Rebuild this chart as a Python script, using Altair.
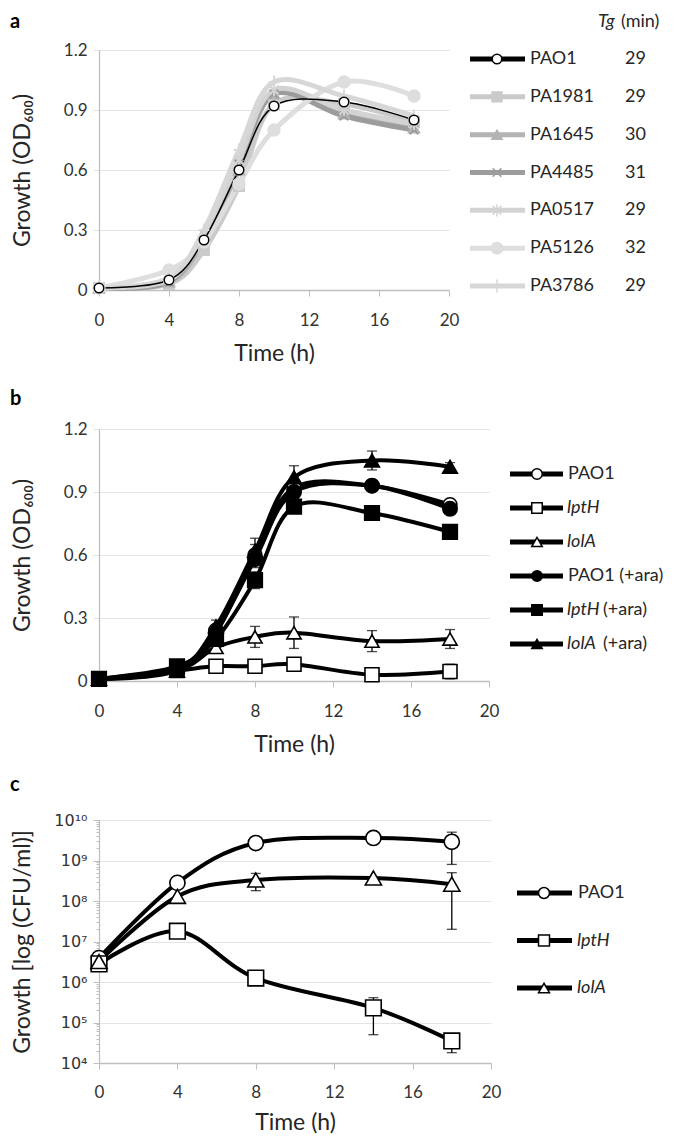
import altair as alt
import pandas as pd

FONT = "Lato"
TXT = "#262626"
LBL = "#333333"
AXC = "#bfbfbf"
GRID = "#e4e4e4"

# ---------------- panel a data ----------------
a_time = [0, 4, 6, 8, 10, 14, 18]
a_names = ["PAO1", "PA1981", "PA1645", "PA4485", "PA0517", "PA5126", "PA3786"]
a_tg = ["29", "29", "30", "31", "29", "32", "29"]
a_header = ["Tg", "(min)"]
a_PAO1 = [0.01, 0.05, 0.25, 0.60, 0.92, 0.94, 0.85]
a_PA1981 = [0.01, 0.03, 0.20, 0.52, 0.93, 0.93, 0.84]
a_PA1645 = [0.01, 0.04, 0.25, 0.60, 0.98, 0.88, 0.81]
a_PA4485 = [0.01, 0.04, 0.28, 0.63, 0.98, 0.87, 0.80]
a_PA0517 = [0.01, 0.05, 0.28, 0.65, 1.00, 0.90, 0.83]
a_PA5126 = [0.01, 0.10, 0.24, 0.53, 0.80, 1.04, 0.97]
a_PA3786 = [0.01, 0.06, 0.30, 0.70, 1.04, 0.97, 0.87]
a_values = [a_PAO1, a_PA1981, a_PA1645, a_PA4485, a_PA0517, a_PA5126, a_PA3786]

# ---------------- panel b data ----------------
b_time = [0, 4, 6, 8, 10, 14, 18]
b_names = ["PAO1", "lptH", "lolA", "PAO1 (+ara)", "lptH (+ara)", "lolA (+ara)"]
b_PAO1 = [0.01, 0.06, 0.23, 0.60, 0.92, 0.93, 0.84]
b_lptH = [0.01, 0.05, 0.07, 0.07, 0.08, 0.03, 0.045]
b_lolA = [0.01, 0.05, 0.16, 0.21, 0.23, 0.19, 0.20]
b_PAO1_ara = [0.01, 0.06, 0.24, 0.58, 0.90, 0.93, 0.82]
b_lptH_ara = [0.01, 0.07, 0.20, 0.48, 0.83, 0.80, 0.71]
b_lolA_ara = [0.01, 0.05, 0.26, 0.62, 0.97, 1.05, 1.02]
b_values = [b_PAO1, b_lptH, b_lolA, b_PAO1_ara, b_lptH_ara, b_lolA_ara]
b_PAO1_sd = [0, 0, 0.02, 0.05, 0.04, 0.02, 0.02]
b_lptH_sd = [0, 0, 0.01, 0.01, 0.01, 0.01, 0.035]
b_lolA_sd = [0, 0, 0.02, 0.05, 0.075, 0.05, 0.045]
b_PAO1_ara_sd = [0, 0, 0.02, 0.04, 0.03, 0.02, 0.02]
b_lptH_ara_sd = [0, 0, 0.02, 0.04, 0.03, 0.02, 0.02]
b_lolA_ara_sd = [0, 0, 0.03, 0.06, 0.055, 0.045, 0.02]
b_sds = [b_PAO1_sd, b_lptH_sd, b_lolA_sd, b_PAO1_ara_sd, b_lptH_ara_sd, b_lolA_ara_sd]

# ---------------- panel c data ----------------
c_time = [0, 4, 8, 14, 18]
c_names = ["PAO1", "lptH", "lolA"]
c_PAO1 = [3.9e6, 2.8e8, 2.7e9, 3.6e9, 2.9e9]
c_lptH = [2.8e6, 1.8e7, 1.25e6, 2.3e5, 3.5e4]
c_lolA = [3.2e6, 1.3e8, 3.3e8, 3.7e8, 2.6e8]
c_values = [c_PAO1, c_lptH, c_lolA]
c_PAO1_sd = [0, 0, 0, 0, 2.1e9]
c_lptH_sd = [0, 0, 4.0e5, 1.8e5, 1.7e4]
c_lolA_sd = [0, 0, 1.5e8, 0, 2.4e8]
c_sds = [c_PAO1_sd, c_lptH_sd, c_lolA_sd]
c_major = [1e4, 1e5, 1e6, 1e7, 1e8, 1e9, 1e10]

x_ticks = [0, 4, 8, 12, 16, 20]
y_lin_ticks = [0, 0.3, 0.6, 0.9, 1.2]
panel_letters = ["a", "b", "c"]
x_title = "Time (h)"
ya_title = "Growth (OD\u2086\u2080\u2080)"
yc_title = "Growth [log (CFU/ml)]"
italic_set = ["lptH", "lolA"]


def long_df(times, names, values, sds=None):
    rows = []
    for i, n in enumerate(names):
        for j, t in enumerate(times):
            r = {"series": n, "time": t, "value": values[i][j]}
            if sds is not None:
                s = sds[i][j]
                r["sd"] = s
                r["lo"] = values[i][j] - s
                r["hi"] = values[i][j] + s
            rows.append(r)
    return pd.DataFrame(rows)


df_a = long_df(a_time, a_names, a_values)
df_b = long_df(b_time, b_names, b_values, b_sds)
df_c = long_df(c_time, c_names, c_values, c_sds)

X_PATH = "M-0.8,-0.8L0.8,0.8M-0.8,0.8L0.8,-0.8"
AST_PATH = "M-0.8,-0.8L0.8,0.8M-0.8,0.8L0.8,-0.8M0,-1.1L0,1.1"
PLUS_PATH = "M0,-1.1L0,1.1M-0.9,0L0.9,0"


def x_axis(label_pad=16, title_pad=14):
    return alt.Axis(values=x_ticks, title=x_title, grid=False, tickSize=6, tickColor=AXC,
                    domainColor=AXC, domainWidth=1.3, labelPadding=label_pad, labelFontSize=17,
                    labelFont=FONT, labelColor=LBL, labelFlush=False, titleFontSize=23,
                    titleFont=FONT, titleFontWeight="normal", titleColor=TXT, titlePadding=title_pad)


def y_axis_lin(title):
    return alt.Axis(values=y_lin_ticks, format=".1~f", title=title, grid=True, gridColor=GRID,
                    tickSize=6, tickColor=GRID, domainColor=AXC, domainWidth=1.3, labelPadding=6,
                    labelFontSize=17, labelFont=FONT, labelColor=LBL, titleFontSize=23,
                    titleFont=FONT, titleFontWeight="normal", titleColor=TXT, titlePadding=21,
                    minExtent=44, maxExtent=44)


def letter_layer(t, ypos):
    return alt.Chart(pd.DataFrame({"t": [t]})).mark_text(
        align="left", baseline="alphabetic", fontSize=20, fontWeight="bold", font=FONT,
        color="black").encode(x=alt.value(-89), y=alt.value(ypos), text="t:N")


def text_layer(df, y, field, x, italic=False, flt=None, size=18):
    c = alt.Chart(df)
    if flt is not None:
        c = c.transform_filter(flt)
    kw = dict(align="left", baseline="middle", fontSize=size, font=FONT, color=TXT)
    if italic:
        kw["fontStyle"] = "italic"
    return c.mark_text(**kw).encode(x=alt.value(x), y=y, text=field + ":N")


# ================= panel a =================
a_colors = ["#000000", "#cacaca", "#b4b4b4", "#9c9c9c", "#d3d3d3", "#dedede", "#d7d7d7"]
a_shapes = ["circle", "square", "triangle-up", X_PATH, AST_PATH, "circle", PLUS_PATH]
a_fills = ["#ffffff", "#cacaca", "#b4b4b4", "#9c9c9c", "#d3d3d3", "#dedede", "#d7d7d7"]
a_sizes = [90, 140, 160, 130, 130, 220, 150]

xa = alt.X("time:Q", scale=alt.Scale(domain=[0, 20], nice=False, zero=False), axis=x_axis())
ya_scale = alt.Scale(domain=[0, 1.2], nice=False)
ya = alt.Y("value:Q", scale=ya_scale, axis=y_axis_lin(ya_title))
ya_n = alt.Y("value:Q", scale=ya_scale, axis=None)
col_a = alt.Color("series:N", scale=alt.Scale(domain=a_names, range=a_colors), legend=None)
shape_a = alt.Shape("series:N", scale=alt.Scale(domain=a_names, range=a_shapes), legend=None)
fill_a = alt.Fill("series:N", scale=alt.Scale(domain=a_names, range=a_fills), legend=None)
stroke_a = alt.Stroke("series:N", scale=alt.Scale(domain=a_names, range=a_colors), legend=None)

base_a = alt.Chart(df_a)
a_gray_lines = base_a.transform_filter(alt.datum.series != "PAO1").mark_line(
    interpolate="cardinal", strokeWidth=5).encode(x=xa, y=ya, color=col_a)
a_black_line = base_a.transform_filter(alt.datum.series == "PAO1").mark_line(
    interpolate="cardinal", strokeWidth=1.5, color="black").encode(x=xa, y=ya_n)
a_gray_pts = base_a.transform_filter(alt.datum.series != "PAO1").mark_point(
    opacity=1, strokeWidth=2).encode(
    x=xa, y=ya_n, shape=shape_a, fill=fill_a, stroke=stroke_a,
    size=alt.Size("series:N", scale=alt.Scale(domain=a_names, range=a_sizes), legend=None))
a_black_pts = base_a.transform_filter(alt.datum.series == "PAO1").mark_point(
    opacity=1, strokeWidth=1.5, shape="circle", fill="white", stroke="black", size=90).encode(x=xa, y=ya_n)

# legend a (drawn to the right of the plot area)
LA = 366
la_df = pd.DataFrame({"series": a_names, "tg": a_tg})
y_la = alt.Y("series:N", scale=alt.Scale(type="point", domain=a_names, range=[9, 236], padding=0), axis=None)
la_lines = alt.Chart(la_df).mark_rule(strokeWidth=5).encode(
    x=alt.value(LA + 5), x2=alt.value(LA + 60), y=y_la, color=col_a)
la_pts = alt.Chart(la_df).mark_point(opacity=1, strokeWidth=1.5).encode(
    x=alt.value(LA + 32), y=y_la, shape=shape_a, fill=fill_a, stroke=stroke_a,
    size=alt.Size("series:N", scale=alt.Scale(domain=a_names, range=a_sizes), legend=None))
la_txt = text_layer(la_df, y_la, "series", LA + 65)
la_tg = text_layer(la_df, y_la, "tg", LA + 160)
hd_df = pd.DataFrame({"h1": [a_header[0]], "h2": [a_header[1]]})
la_h1 = alt.Chart(hd_df).mark_text(align="left", baseline="middle", fontSize=18, font=FONT,
                                   fontStyle="italic", color=TXT).encode(
    x=alt.value(LA + 133), y=alt.value(-28), text="h1:N")
la_h2 = alt.Chart(hd_df).mark_text(align="left", baseline="middle", fontSize=18, font=FONT, color=TXT).encode(
    x=alt.value(LA + 156), y=alt.value(-28), text="h2:N")

panel_a = alt.layer(a_gray_lines, a_black_line, a_gray_pts, a_black_pts,
                    la_lines, la_pts, la_txt, la_tg, la_h1, la_h2,
                    letter_layer(panel_letters[0], -22)).resolve_scale(
    y="independent").properties(width=350, height=240)

# ================= panel b =================
b_shapes = ["circle", "square", "triangle-up", "circle", "square", "triangle-up"]
b_fills = ["white", "white", "white", "black", "black", "black"]
b_sizes = [190, 220, 220, 190, 220, 220]

xb = alt.X("time:Q", scale=alt.Scale(domain=[0, 20], nice=False, zero=False), axis=x_axis())
yb_scale = alt.Scale(domain=[0, 1.2], nice=False)
yb = alt.Y("value:Q", scale=yb_scale, axis=y_axis_lin(ya_title))
yb_n = alt.Y("value:Q", scale=yb_scale, axis=None)
shape_b = alt.Shape("series:N", scale=alt.Scale(domain=b_names, range=b_shapes), legend=None)
fill_b = alt.Fill("series:N", scale=alt.Scale(domain=b_names, range=b_fills), legend=None)

base_b = alt.Chart(df_b)
b_lines = base_b.mark_line(interpolate="cardinal", strokeWidth=4, color="black").encode(
    x=xb, y=yb, detail="series:N")
b_err = base_b.transform_filter(alt.datum.sd > 0)
b_rule = b_err.mark_rule(color="black", strokeWidth=1.3).encode(
    x=xb, y=alt.Y("lo:Q", scale=yb_scale, axis=None), y2="hi:Q")
b_cap_lo = b_err.mark_tick(orient="horizontal", size=10, thickness=1.3, color="black").encode(
    x=xb, y=alt.Y("lo:Q", scale=yb_scale, axis=None))
b_cap_hi = b_err.mark_tick(orient="horizontal", size=10, thickness=1.3, color="black").encode(
    x=xb, y=alt.Y("hi:Q", scale=yb_scale, axis=None))
b_pts = base_b.mark_point(opacity=1, strokeWidth=1.6, stroke="black").encode(
    x=xb, y=yb_n, shape=shape_b, fill=fill_b,
    size=alt.Size("series:N", scale=alt.Scale(domain=b_names, range=b_sizes), legend=None))

LB = 406
lb_df = pd.DataFrame({"series": b_names})
lb_df["base"] = lb_df["series"].str.split(" \\(").str[0]
lb_df["italic"] = lb_df["base"].isin(italic_set)
lb_df["main"] = [b if it else s for b, it, s in zip(lb_df["base"], lb_df["italic"], lb_df["series"])]
lb_df["suffix"] = [s[len(b):].strip() if it else "" for b, it, s in zip(lb_df["base"], lb_df["italic"], lb_df["series"])]
y_lb = alt.Y("series:N", scale=alt.Scale(type="point", domain=b_names, range=[45, 215], padding=0), axis=None)
lb_lines = alt.Chart(lb_df).mark_rule(strokeWidth=5, color="black").encode(
    x=alt.value(LB + 5), x2=alt.value(LB + 58), y=y_lb)
lb_pts = alt.Chart(lb_df).mark_point(opacity=1, strokeWidth=1.5, stroke="black", size=110).encode(
    x=alt.value(LB + 32), y=y_lb, shape=shape_b, fill=fill_b)
lb_txt_n = text_layer(lb_df, y_lb, "main", LB + 63, flt="!datum.italic")
lb_txt_i = text_layer(lb_df, y_lb, "main", LB + 62, italic=True, flt="datum.italic")
lb_txt_s = text_layer(lb_df, y_lb, "suffix", LB + 98, flt="datum.suffix != ''")

panel_b = alt.layer(b_lines, b_rule, b_cap_lo, b_cap_hi, b_pts,
                    lb_lines, lb_pts, lb_txt_n, lb_txt_i, lb_txt_s,
                    letter_layer(panel_letters[1], -24)).resolve_scale(
    y="independent").properties(width=390, height=252)

# ================= panel c =================
c_shapes = ["circle", "square", "triangle-up"]
c_sizes = [230, 260, 250]
c_minor = [m * v for v in c_major[:-1] for m in range(1, 10)] + [c_major[-1]]
E = "round(log(datum.value)/LN10)"
MAJ = "abs(log(datum.value)/LN10 - " + E + ") < 0.000001"
c_label_expr = (MAJ + " ? ('10' + (" + E + " == 10 ? '\u00b9\u2070' : substring('\u2070\u00b9\u00b2\u00b3\u2074\u2075\u2076\u2077\u2078\u2079', "
                + E + ", " + E + " + 1))) : ''")

yc_scale = alt.Scale(type="log", domain=[1e4, 1e10], nice=False)
yc_axis = alt.Axis(values=c_minor, labelExpr=c_label_expr, labelOverlap=False, title=yc_title,
                   grid=True, gridColor=GRID,
                   gridOpacity={"condition": {"test": MAJ, "value": 1}, "value": 0},
                   tickSize={"condition": {"test": MAJ, "value": 6}, "value": 3},
                   tickColor=AXC, domainColor=AXC, domainWidth=1.3, labelPadding=6,
                   labelFontSize=16, labelFont="DejaVu Sans", labelColor=LBL, titleFontSize=23,
                   titleFont=FONT, titleFontWeight="normal", titleColor=TXT, titlePadding=21,
                   minExtent=44, maxExtent=44)
xc = alt.X("time:Q", scale=alt.Scale(domain=[0, 20], nice=False, zero=False), axis=x_axis(15, 11))
yc = alt.Y("value:Q", scale=yc_scale, axis=yc_axis)
yc_n = alt.Y("value:Q", scale=yc_scale, axis=None)
shape_c = alt.Shape("series:N", scale=alt.Scale(domain=c_names, range=c_shapes), legend=None)

base_c = alt.Chart(df_c)
c_lines = base_c.mark_line(interpolate="cardinal", strokeWidth=4, color="black").encode(
    x=xc, y=yc, detail="series:N")
c_err = base_c.transform_filter(alt.datum.sd > 0)
c_rule = c_err.mark_rule(color="black", strokeWidth=1.3).encode(
    x=xc, y=alt.Y("lo:Q", scale=yc_scale, axis=None), y2="hi:Q")
c_cap_lo = c_err.mark_tick(orient="horizontal", size=10, thickness=1.3, color="black").encode(
    x=xc, y=alt.Y("lo:Q", scale=yc_scale, axis=None))
c_cap_hi = c_err.mark_tick(orient="horizontal", size=10, thickness=1.3, color="black").encode(
    x=xc, y=alt.Y("hi:Q", scale=yc_scale, axis=None))
c_pts = base_c.mark_point(opacity=1, strokeWidth=1.6, stroke="black", fill="white").encode(
    x=xc, y=yc_n, shape=shape_c,
    size=alt.Size("series:N", scale=alt.Scale(domain=c_names, range=c_sizes), legend=None))

LC = 413
lc_df = pd.DataFrame({"series": c_names})
lc_df["italic"] = lc_df["series"].isin(italic_set)
y_lc = alt.Y("series:N", scale=alt.Scale(type="point", domain=c_names, range=[73, 168], padding=0), axis=None)
lc_lines = alt.Chart(lc_df).mark_rule(strokeWidth=5, color="black").encode(
    x=alt.value(LC + 5), x2=alt.value(LC + 60), y=y_lc)
lc_pts = alt.Chart(lc_df).mark_point(opacity=1, strokeWidth=1.5, stroke="black", fill="white", size=120).encode(
    x=alt.value(LC + 32), y=y_lc, shape=shape_c)
lc_txt_n = text_layer(lc_df, y_lc, "series", LC + 66, flt="!datum.italic")
lc_txt_i = text_layer(lc_df, y_lc, "series", LC + 65, italic=True, flt="datum.italic")

panel_c = alt.layer(c_lines, c_rule, c_cap_lo, c_cap_hi, c_pts,
                    lc_lines, lc_pts, lc_txt_n, lc_txt_i,
                    letter_layer(panel_letters[2], -29)).resolve_scale(
    y="independent").properties(width=392, height=243)

chart = alt.vconcat(panel_a, panel_b, panel_c, spacing=139, bounds="flush").resolve_scale(
    color="independent", shape="independent", fill="independent", stroke="independent",
    size="independent"
).properties(padding={"top": 4, "left": 2, "right": 0, "bottom": 0}).configure(
    font=FONT).configure_view(stroke=None)

chart.save("out.html", embed_options={"renderer": "svg", "actions": False})
